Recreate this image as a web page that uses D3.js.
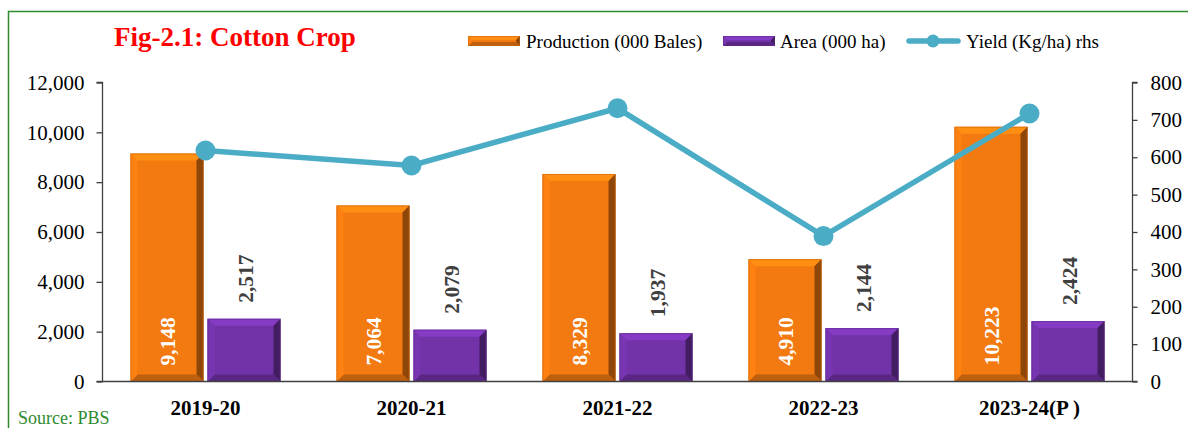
<!DOCTYPE html>
<html><head><meta charset="utf-8">
<script src="https://cdn.jsdelivr.net/npm/d3@7/dist/d3.min.js"></script>
<style>body{margin:0;background:#fff}svg{display:block}</style>
</head><body>
<svg id="c" width="1188" height="428"></svg>
<script>
const categories = ["2019-20","2020-21","2021-22","2022-23","2023-24(P )"];
const production = [9148,7064,8329,4910,10223];
const area = [2517,2079,1937,2144,2424];
const yieldVals = [618,578,731,389,717];
const leftTicks = [0,2000,4000,6000,8000,10000,12000];
const rightTicks = [0,100,200,300,400,500,600,700,800];

const svg = d3.select("#c");
const font = "'Liberation Serif','Times New Roman',serif";
const L=102.5, R=1132.5, T=82.5, B=381.5;

// frame
svg.append("path").attr("d","M8.5,428 V11.5 H1188").attr("fill","none").attr("stroke","#2e8b2e").attr("stroke-width",1.5);

const x = d3.scaleBand().domain(categories).range([L,R]);
const yL = d3.scaleLinear().domain([0,12000]).range([B,T]);
const yR = d3.scaleLinear().domain([0,800]).range([B,T]);
const barW = 73, gap = 4;

function bevelBar(g, x0, y0, w, h, base, bv, id){
  const c=d3.rgb(base);
  const top=c.brighter(0.45).formatHex(), left=c.brighter(0.15).formatHex(), right=c.darker(1.5).formatHex(), bottom=c.darker(0.7).formatHex();
  const b = Math.min(bv, h/2, w/2);
  g.append("rect").attr("x",x0).attr("y",y0).attr("width",w).attr("height",h).attr("fill",base);
  const x1=x0+w, y1=y0+h;
  g.append("polygon").attr("points",`${x0},${y0} ${x1},${y0} ${x1-b},${y0+b} ${x0+b},${y0+b}`).attr("fill",top);
  g.append("polygon").attr("points",`${x1},${y0} ${x1},${y1} ${x1-b},${y1-b} ${x1-b},${y0+b}`).attr("fill",right);
  g.append("polygon").attr("points",`${x0},${y1} ${x1},${y1} ${x1-b},${y1-b} ${x0+b},${y1-b}`).attr("fill",bottom);
  g.append("polygon").attr("points",`${x0},${y0} ${x0+b},${y0+b} ${x0+b},${y1-b} ${x0},${y1}`).attr("fill",left);
  g.append("rect").attr("x",x0+0.5).attr("y",y0+0.5).attr("width",w-1).attr("height",h-1).attr("fill","none").attr("stroke",c.darker(0.6)).attr("stroke-width",1).attr("opacity",0.5);
}
const orange="#F27A10", purple="#7232A8", lineC="#4BACC6";

// bars
const gb = svg.append("g");
categories.forEach((cat,i)=>{
  const cx = x(cat)+x.bandwidth()/2;
  bevelBar(gb, cx-gap/2-barW, yL(production[i]), barW, B-yL(production[i]), orange, 7);
  bevelBar(gb, cx+gap/2, yL(area[i]), barW, B-yL(area[i]), purple, 7);
  const px = cx-gap/2-barW/2, ax = cx+gap/2+barW/2;
  gb.append("text").attr("transform",`translate(${px+8},${B-16}) rotate(-90)`)
    .attr("font-family",font).attr("font-weight","bold").attr("font-size",21.5).attr("fill","#fff").text(d3.format(",")(production[i]));
  gb.append("text").attr("transform",`translate(${ax+9},${yL(area[i])-16}) rotate(-90)`)
    .attr("font-family",font).attr("font-weight","bold").attr("font-size",21.5).attr("fill","#404040").text(d3.format(",")(area[i]));
});

// axes
const axL = svg.append("g").attr("transform",`translate(${L},0)`).call(d3.axisLeft(yL).tickValues(leftTicks).tickFormat(d3.format(",")).tickSize(6).tickPadding(12));
const axR = svg.append("g").attr("transform",`translate(${R},0)`).call(d3.axisRight(yR).tickValues(rightTicks).tickSize(5).tickPadding(13));
[axL,axR].forEach(a=>{
  a.select(".domain").attr("stroke","#404040").attr("stroke-width",1.3).attr("d", a===axL?`M-6,${T}H0V${B}H-6`:`M5,${T}H0V${B}H5`);
  a.selectAll(".tick line").attr("stroke","#404040").attr("stroke-width",1.3);
  a.selectAll("text").attr("font-family",font).attr("font-size",21).attr("fill","#000");
});
svg.append("line").attr("x1",L).attr("x2",R).attr("y1",B).attr("y2",B).attr("stroke","#404040").attr("stroke-width",1.3);

// x labels
svg.append("g").selectAll("text").data(categories).join("text")
  .attr("x",d=>x(d)+x.bandwidth()/2).attr("y",415).attr("text-anchor","middle")
  .attr("font-family",font).attr("font-weight","bold").attr("font-size",21).text(d=>d);

// line
const line = d3.line().x((d,i)=>x(categories[i])+x.bandwidth()/2).y(d=>yR(d));
svg.append("path").datum(yieldVals).attr("d",line).attr("fill","none").attr("stroke",lineC).attr("stroke-width",5.5);
svg.append("g").selectAll("circle").data(yieldVals).join("circle")
  .attr("cx",(d,i)=>x(categories[i])+x.bandwidth()/2).attr("cy",d=>yR(d)).attr("r",10).attr("fill",lineC);

// title
svg.append("text").attr("x",114).attr("y",46).attr("font-family",font).attr("font-weight","bold").attr("font-size",27).attr("fill","#FF0000").text("Fig-2.1: Cotton Crop");

// legend
const lg = svg.append("g").attr("font-family",font).attr("font-size",19);
bevelBar(lg, 468, 36, 52, 10, orange, 4);
lg.append("text").attr("x",526).attr("y",47.5).text("Production (000 Bales)");
bevelBar(lg, 723, 36, 52, 10, purple, 4);
lg.append("text").attr("x",780).attr("y",47.5).text("Area (000 ha)");
lg.append("line").attr("x1",909).attr("x2",958).attr("y1",41).attr("y2",41).attr("stroke",lineC).attr("stroke-width",5.5).attr("stroke-linecap","round");
lg.append("circle").attr("cx",933).attr("cy",41).attr("r",6.5).attr("fill",lineC);
lg.append("text").attr("x",966).attr("y",47.5).text("Yield (Kg/ha) rhs");

// source
svg.append("text").attr("x",18).attr("y",424).attr("font-family",font).attr("font-size",18).attr("fill","#2e8b2e").text("Source: PBS");
</script>
</body></html>
